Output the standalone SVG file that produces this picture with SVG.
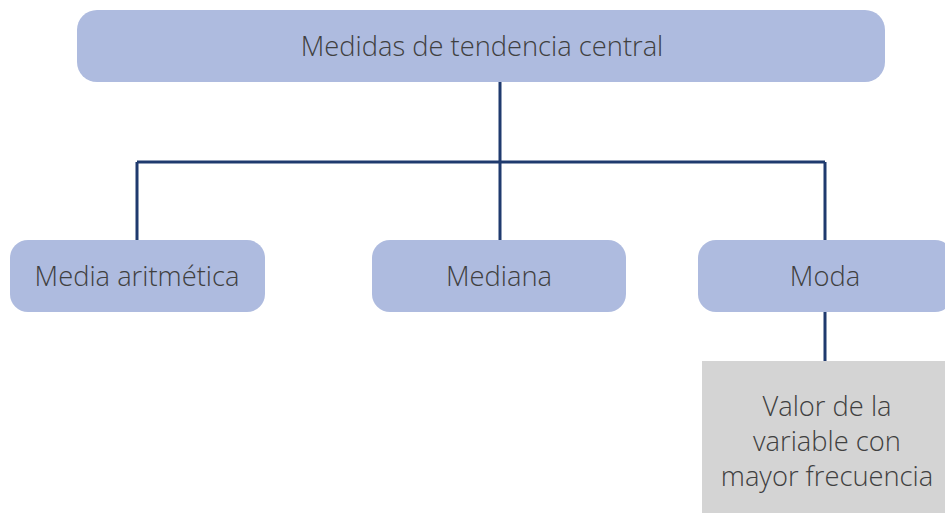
<svg xmlns="http://www.w3.org/2000/svg" width="945" height="513" viewBox="0 0 945 513">
<style>
.box{fill:#aebbdf;}
.gray{fill:#d4d4d4;}
.t{font-family:"Open Sans","Noto Sans","Liberation Sans",sans-serif;font-weight:300;font-size:27.3px;fill:#404040;text-anchor:middle;}
.c{stroke:#1f3a6e;stroke-width:3;fill:none;}
</style>
<rect width="945" height="513" fill="#ffffff"/>
<g id="connectors">
<path class="c" d="M500,82 V162 M137,162 H825 M137,162 V240 M500,162 V240 M825,162 V240 M825,312 V361"/>
</g>
<g id="root">
<rect class="box" x="77" y="10" width="808" height="72" rx="20"/>
<text class="t" x="482" y="56">Medidas de tendencia central</text>
</g>
<g id="media">
<rect class="box" x="10" y="240" width="255" height="72" rx="18"/>
<text class="t" x="137" y="286">Media aritmética</text>
</g>
<g id="mediana">
<rect class="box" x="372" y="240" width="254" height="72" rx="18"/>
<text class="t" x="499" y="286">Mediana</text>
</g>
<g id="moda">
<rect class="box" x="698" y="240" width="255" height="72" rx="18"/>
<text class="t" x="825" y="286">Moda</text>
</g>
<g id="valor">
<rect class="gray" x="702" y="361" width="243" height="152"/>
<text class="t" x="827" y="416">Valor de la</text>
<text class="t" x="827" y="451">variable con</text>
<text class="t" x="827" y="486">mayor frecuencia</text>
</g>
</svg>
